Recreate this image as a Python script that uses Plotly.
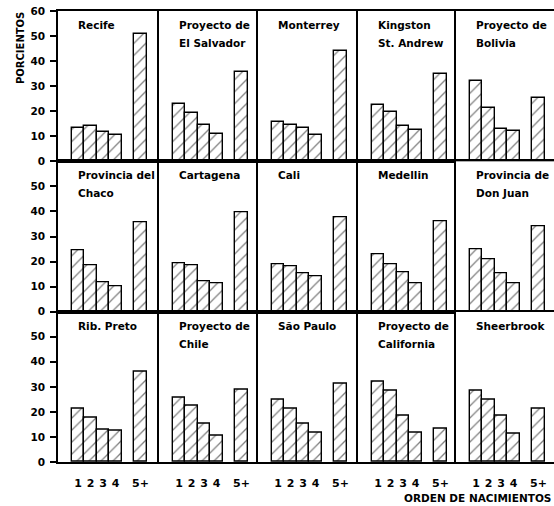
import plotly.graph_objects as go
from plotly.subplots import make_subplots

# ---------------- data ----------------
birth_orders = ["1", "2", "3", "4", "5+"]
axis_order = ["1", "2", "3", "4", " ", "5+"]   # blank slot separates 5+

panel_titles = [
    ["Recife"], ["Proyecto de", "El Salvador"], ["Monterrey"], ["Kingston", "St. Andrew"], ["Proyecto de", "Bolivia"],
    ["Provincia del", "Chaco"], ["Cartagena"], ["Cali"], ["Medellin"], ["Provincia de", "Don Juan"],
    ["Rib. Preto"], ["Proyecto de", "Chile"], ["São Paulo"], ["Proyecto de", "California"], ["Sheerbrook"],
]

recife = [13.5, 14.3, 11.6, 10.5, 50.7]
el_salvador = [22.7, 19.2, 14.5, 11.1, 35.6]
monterrey = [15.7, 14.5, 13.2, 10.4, 44.0]
kingston = [22.3, 19.6, 14.3, 12.7, 34.9]
bolivia = [31.9, 21.2, 12.9, 12.0, 25.3]
chaco = [24.5, 18.5, 11.7, 10.3, 35.5]
cartagena = [19.2, 18.5, 12.2, 11.4, 39.7]
cali = [18.9, 18.2, 15.2, 14.1, 37.7]
medellin = [22.9, 18.9, 15.6, 11.2, 36.1]
don_juan = [25.0, 20.8, 15.3, 11.2, 34.0]
rib_preto = [21.2, 17.8, 12.8, 12.4, 36.2]
chile = [25.7, 22.4, 15.5, 10.5, 28.8]
sao_paulo = [24.8, 21.1, 15.3, 11.6, 31.3]
california = [32.1, 28.4, 18.4, 11.6, 13.2]
sheerbrook = [28.4, 24.7, 18.4, 11.3, 21.1]

series = [recife, el_salvador, monterrey, kingston, bolivia,
          chaco, cartagena, cali, medellin, don_juan,
          rib_preto, chile, sao_paulo, california, sheerbrook]

y_title = "PORCIENTOS"
x_title = "ORDEN DE NACIMIENTOS"

# ---------------- layout ----------------
W, H = 554, 506
ML, MR, MT, MB = 58, 0, 11, 44
col_px = [101, 99, 100, 98, 98]
px_per_unit = 12.5
FONT = "DejaVu Sans"

fig = make_subplots(rows=3, cols=5, horizontal_spacing=0, vertical_spacing=0,
                    column_widths=col_px)

for i, vals in enumerate(series):
    r, c = i // 5 + 1, i % 5 + 1
    fig.add_trace(go.Bar(
        x=birth_orders, y=vals, width=1.0,
        marker=dict(color="white", line=dict(color="black", width=1.4),
                    pattern=dict(shape="/", fgcolor="black", bgcolor="white",
                                 size=8.5, solidity=0.15)),
        showlegend=False, hoverinfo="skip"), row=r, col=c)

    x0 = -1.6
    fig.update_xaxes(type="category", categoryorder="array", categoryarray=axis_order,
                     range=[x0, x0 + col_px[c - 1] / px_per_unit],
                     showline=True, linecolor="black", linewidth=1.6, mirror=True,
                     showgrid=False, zeroline=False, ticks="", automargin=False,
                     tickvals=birth_orders, ticktext=birth_orders,
                     showticklabels=(r == 3), ticklabelstandoff=10,
                     ticklabeloverflow="allow",
                     tickfont=dict(family=FONT, size=11, color="black", weight="bold"),
                     row=r, col=c)
    fig.update_yaxes(range=[0, 60], showgrid=False, zeroline=False, automargin=False,
                     showline=True, linecolor="black", linewidth=1.6, mirror=False,
                     tickvals=[0, 10, 20, 30, 40, 50, 60] if r == 1 else [0, 10, 20, 30, 40, 50],
                     ticks="outside" if c == 1 else "", ticklen=6, tickwidth=1.5, tickcolor="black",
                     showticklabels=(c == 1), ticklabelstandoff=3,
                     ticklabeloverflow="allow",
                     tickfont=dict(family=FONT, size=10.5, color="black", weight="bold"),
                     row=r, col=c)

    xa = fig.get_subplot(r, c).xaxis.plotly_name.replace("axis", "")
    ya = fig.get_subplot(r, c).yaxis.plotly_name.replace("axis", "")
    for k, line in enumerate(panel_titles[i]):
        fig.add_annotation(text=line, xref=f"{xa} domain", yref=f"{ya} domain",
                           x=0, y=1, xanchor="left", yanchor="middle",
                           xshift=18, yshift=-14 - 18 * k, showarrow=False,
                           font=dict(family=FONT, size=10.5, color="black", weight="bold"))

fig.add_annotation(text=y_title, xref="paper", yref="paper", x=0, y=1,
                   xanchor="center", yanchor="middle", xshift=-38, yshift=-37,
                   textangle=-90, showarrow=False,
                   font=dict(family=FONT, size=10, color="black", weight="bold"))
fig.add_annotation(text=x_title, xref="paper", yref="paper", x=(402 - ML) / (W - ML - MR), y=0,
                   xanchor="left", yanchor="middle", yshift=-36, showarrow=False,
                   font=dict(family=FONT, size=10.5, color="black", weight="bold"))

fig.update_layout(width=W, height=H, margin=dict(l=ML, r=MR, t=MT, b=MB, autoexpand=False),
                  paper_bgcolor="white", plot_bgcolor="white", bargap=0)

fig.write_html("out.html", config={"displayModeBar": False},
               post_script="document.body.style.margin='0';document.body.style.overflow='hidden';")
